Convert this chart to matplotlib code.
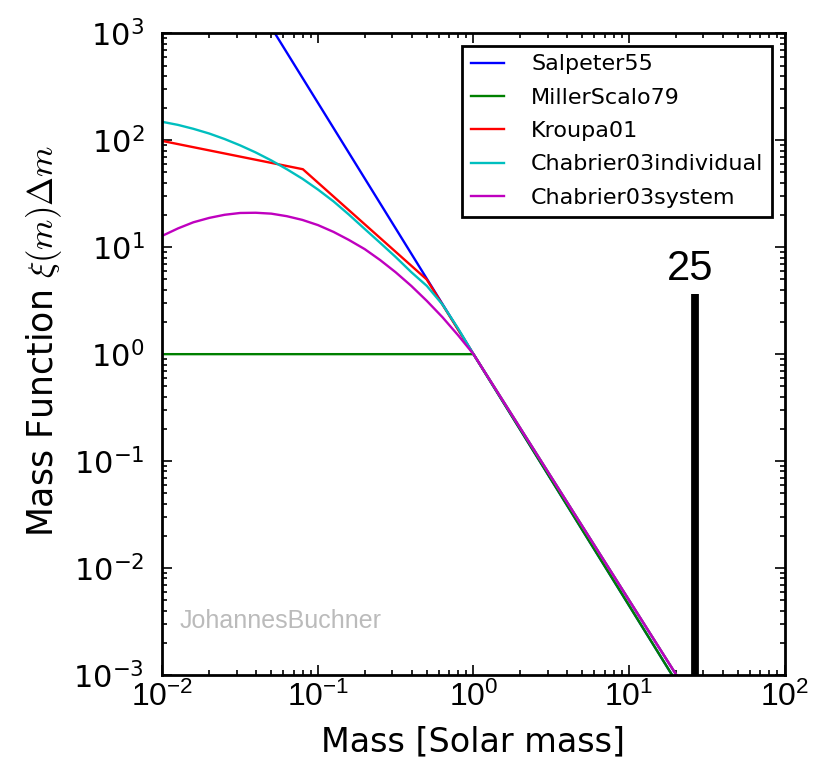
import matplotlib
matplotlib.use('Agg')
import matplotlib.pyplot as plt
from matplotlib import font_manager
from matplotlib.ticker import LogLocator, NullFormatter


def pick_font(names):
    # first installed family from the list
    for n in names:
        try:
            font_manager.findfont(n, fallback_to_default=False)
            return n
        except Exception:
            pass
    return 'DejaVu Sans'


NARROW = pick_font(['Liberation Sans Narrow', 'Liberation Sans', 'DejaVu Sans'])
plt.rcParams['mathtext.fontset'] = 'custom'
plt.rcParams['mathtext.rm'] = NARROW
plt.rcParams['mathtext.it'] = NARROW + ':italic'
plt.rcParams['mathtext.bf'] = NARROW + ':bold'

# values (mass in solar masses, xi(m) dm normalised at 1 Msun)
salpeter_m = [0.01, 25.0]
salpeter_xi = [5.0e4, 5.2e-4]

millerscalo_m = [0.01, 1.0, 25.0]
millerscalo_xi = [1.0, 1.0, 5.2e-4]

kroupa_m = [0.01, 0.08, 0.5, 1.0, 25.0]
kroupa_xi = [98.5, 53.6, 5.0, 1.0, 6.1e-4]

chab_ind_m = [0.01, 0.0126, 0.0158, 0.02, 0.0251, 0.0316, 0.0398, 0.0501, 0.0631,
              0.0794, 0.1, 0.126, 0.158, 0.2, 0.251, 0.316, 0.398, 0.501,
              0.631, 0.794, 1.0, 25.0]
chab_ind_xi = [148.6, 139.2, 128, 115.6, 102.7, 89.6, 76.9, 64.8, 53.6,
               43.7, 34.6, 26.8, 20.2, 14.8, 11.0, 8.1, 5.85, 4.35,
               2.92, 1.75, 1.0, 6.1e-4]

chab_sys_m = [0.01, 0.0126, 0.0158, 0.02, 0.0251, 0.0316, 0.0398, 0.0501, 0.0631,
              0.0794, 0.1, 0.126, 0.158, 0.2, 0.251, 0.316, 0.398, 0.501,
              0.631, 0.794, 1.0, 25.0]
chab_sys_xi = [12.8, 15.0, 17.1, 18.8, 20.1, 20.9, 21.0, 20.6, 19.5,
               18.0, 16.1, 13.9, 11.7, 9.59, 7.59, 5.83, 4.35, 3.15,
               2.22, 1.51, 1.0, 6.1e-4]

bar_x = 26.6
bar_top = 3.69
bar_label = '25'

xtick_vals = [1e-2, 1e-1, 1e0, 1e1, 1e2]
xtick_labels = ['$10^{-2}$', '$10^{-1}$', '$10^{0}$', '$10^{1}$', '$10^{2}$']
ytick_vals = [1e-3, 1e-2, 1e-1, 1e0, 1e1, 1e2, 1e3]
ytick_labels = ['$10^{-3}$', '$10^{-2}$', '$10^{-1}$', '$10^{0}$',
                '$10^{1}$', '$10^{2}$', '$10^{3}$']

fig = plt.figure(figsize=(8.33, 7.66), dpi=100)
ax = fig.add_axes([0.195, 0.1188, 0.7468, 0.8377])

lw = 1.7
ax.plot(salpeter_m, salpeter_xi, color=(0, 0, 1), lw=lw, label='Salpeter55')
ax.plot(millerscalo_m, millerscalo_xi, color=(0, 0.5, 0), lw=lw, label='MillerScalo79')
ax.plot(kroupa_m, kroupa_xi, color=(1, 0, 0), lw=lw, label='Kroupa01')
ax.plot(chab_ind_m, chab_ind_xi, color=(0, 0.75, 0.75), lw=lw, label='Chabrier03individual')
ax.plot(chab_sys_m, chab_sys_xi, color=(0.75, 0, 0.75), lw=lw, label='Chabrier03system')

# the marker bar
ax.plot([bar_x, bar_x], [1e-3, bar_top], color='k', lw=5.6, solid_capstyle='butt')
ax.annotate(bar_label, xy=(bar_x, bar_top), xytext=(-3.5, 3), textcoords='offset points',
            ha='center', va='bottom', fontsize=30, family=NARROW)

ax.set_xscale('log')
ax.set_yscale('log')
ax.set_xlim(1e-2, 1e2)
ax.set_ylim(1e-3, 1e3)

ax.set_xticks(xtick_vals)
ax.set_xticklabels(xtick_labels, fontsize=23)
ax.set_yticks(ytick_vals)
ax.set_yticklabels(ytick_labels, fontsize=22)
for t in ax.get_xticklabels():
    t.set_math_fontfamily('custom')
for t in ax.get_yticklabels():
    t.set_math_fontfamily('dejavusans')
for axis in (ax.xaxis, ax.yaxis):
    axis.set_minor_locator(LogLocator(base=10, subs=range(2, 10), numticks=20))
    axis.set_minor_formatter(NullFormatter())

ax.tick_params(which='both', direction='in', top=True, right=True, width=1.2)
ax.tick_params(which='major', length=7)
ax.tick_params(which='minor', length=3.5)
ax.tick_params(axis='x', pad=5)
ax.tick_params(axis='y', pad=13)
for s in ax.spines.values():
    s.set_linewidth(2)

ax.set_xlabel('Mass [Solar mass]', fontsize=24, labelpad=9)
ax.set_ylabel(r'Mass Function $\xi(m)\Delta m$', fontsize=25, math_fontfamily='cm')
ax.yaxis.set_label_coords(-0.158, 0.52)

ax.text(0.028, 0.084, 'JohannesBuchner', transform=ax.transAxes, color='#bbbbbb',
        fontsize=18, family=NARROW, va='center', ha='left')

leg = ax.legend(loc='upper right', fontsize=16, handlelength=1.5, handletextpad=1.2,
                labelspacing=0.6, borderaxespad=0.55, fancybox=False, framealpha=1,
                edgecolor='k')
leg.get_frame().set_linewidth(2)

fig.savefig('out.png', dpi=100)
